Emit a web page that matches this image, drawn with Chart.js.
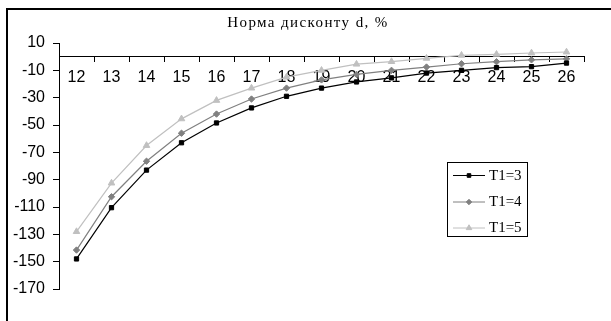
<!DOCTYPE html>
<html>
<head>
<meta charset="utf-8">
<script src="https://cdn.jsdelivr.net/npm/chart.js@4/dist/chart.umd.min.js"></script>
<style>
html,body{margin:0;padding:0;background:#fff;}
#wrap{width:611px;height:321px;position:relative;}
</style>
</head>
<body>
<div id="wrap"><canvas id="c" width="611" height="321"></canvas></div>
<script>
const chartTitle = "Норма дисконту d, %";
const categories = ["12","13","14","15","16","17","18","19","20","21","22","23","24","25","26"];
const seriesNames = ["T1=3","T1=4","T1=5"];
const t1_3 = [-148, -110.5, -83, -63, -48.5, -37.5, -29, -23, -18.5, -15.5, -12, -10, -8, -7.3, -4.7];
const t1_4 = [-141.5, -102.5, -76.5, -56, -42, -31, -23, -17, -13, -10, -7.6, -5.2, -3.7, -2.3, -1.6];
const t1_5 = [-128, -92.5, -65, -45.5, -32, -23, -15, -10, -5.5, -3.6, -1.2, 1, 1.7, 2.7, 3.4];
const yMin = -170, yMax = 10, yStep = 20;

const colors = ["#000000", "#808080", "#c0c0c0"];
const pstyles = ["rect", "rectRot", "triangle"];
const pradius = [3, 3.2, 3.8];

const framePlugin = {
  id: 'frame',
  afterDraw(chart) {
    const ctx = chart.ctx;
    ctx.save();
    ctx.strokeStyle = '#000';
    ctx.lineWidth = 2;
    ctx.beginPath();
    ctx.moveTo(7, 321);
    ctx.lineTo(7, 9);
    ctx.lineTo(611, 9);
    ctx.stroke();
    // title
    ctx.fillStyle = '#000';
    ctx.font = '15px "Liberation Serif"';
    ctx.letterSpacing = '1.4px';
    ctx.textAlign = 'center';
    ctx.textBaseline = 'middle';
    ctx.fillText(chartTitle, 308, 23);
    ctx.letterSpacing = '0px';
    // legend
    const bx = 447.5, by = 162.5, bw = 80, bh = 74;
    ctx.lineWidth = 1;
    ctx.strokeStyle = '#000';
    ctx.strokeRect(bx, by, bw, bh);
    const rows = [175, 201.5, 227.5];
    chart.data.datasets.forEach((ds, i) => {
      const y = rows[i];
      ctx.strokeStyle = ds.borderColor;
      ctx.fillStyle = ds.borderColor;
      ctx.lineWidth = 1;
      ctx.beginPath();
      ctx.moveTo(453, y + 0.5);
      ctx.lineTo(485, y + 0.5);
      ctx.stroke();
      Chart.helpers.drawPoint(ctx, {pointStyle: ds.pointStyle, radius: ds.pointRadius * 0.85, borderWidth: 1, rotation: 0}, 469, y + 0.5);
      ctx.fillStyle = '#000';
      ctx.font = '15px "Liberation Serif"';
      ctx.textAlign = 'left';
      ctx.textBaseline = 'middle';
      ctx.fillText(ds.label, 489, y + 1);
    });
    ctx.restore();
  }
};

const datasets = [t1_3, t1_4, t1_5].map((d, i) => ({
  label: seriesNames[i],
  data: d,
  borderColor: colors[i],
  backgroundColor: colors[i],
  pointBackgroundColor: colors[i],
  pointBorderColor: colors[i],
  borderWidth: 1.2,
  pointStyle: pstyles[i],
  pointRadius: pradius[i],
  pointBorderWidth: 1,
  tension: 0,
  fill: false,
  clip: false
}));

new Chart(document.getElementById('c'), {
  type: 'line',
  data: { labels: categories, datasets: datasets },
  plugins: [framePlugin],
  options: {
    responsive: false,
    animation: false,
    events: [],
    layout: { padding: { left: 0, right: 27, top: 43, bottom: 32 } },
    plugins: { legend: { display: false }, title: { display: false }, tooltip: { enabled: false } },
    scales: {
      x: {
        type: 'category',
        offset: true,
        position: { y: 0 },
        border: { display: true, color: '#000', width: 1 },
        grid: { display: true, drawOnChartArea: false, drawTicks: true, tickLength: 5, color: '#000', offset: true },
        ticks: { color: '#000', font: { family: '"Liberation Sans"', size: 16 }, padding: 6, maxRotation: 0, autoSkip: false }
      },
      y: {
        min: yMin, max: yMax,
        border: { display: true, color: '#000', width: 1 },
        grid: { display: true, drawOnChartArea: false, drawTicks: true, tickLength: 6, color: '#000' },
        ticks: { stepSize: yStep, color: '#000', font: { family: '"Liberation Sans"', size: 16 }, padding: 8 },
        afterFit(scale) { scale.width = 59; }
      }
    }
  }
});
</script>
</body>
</html>
